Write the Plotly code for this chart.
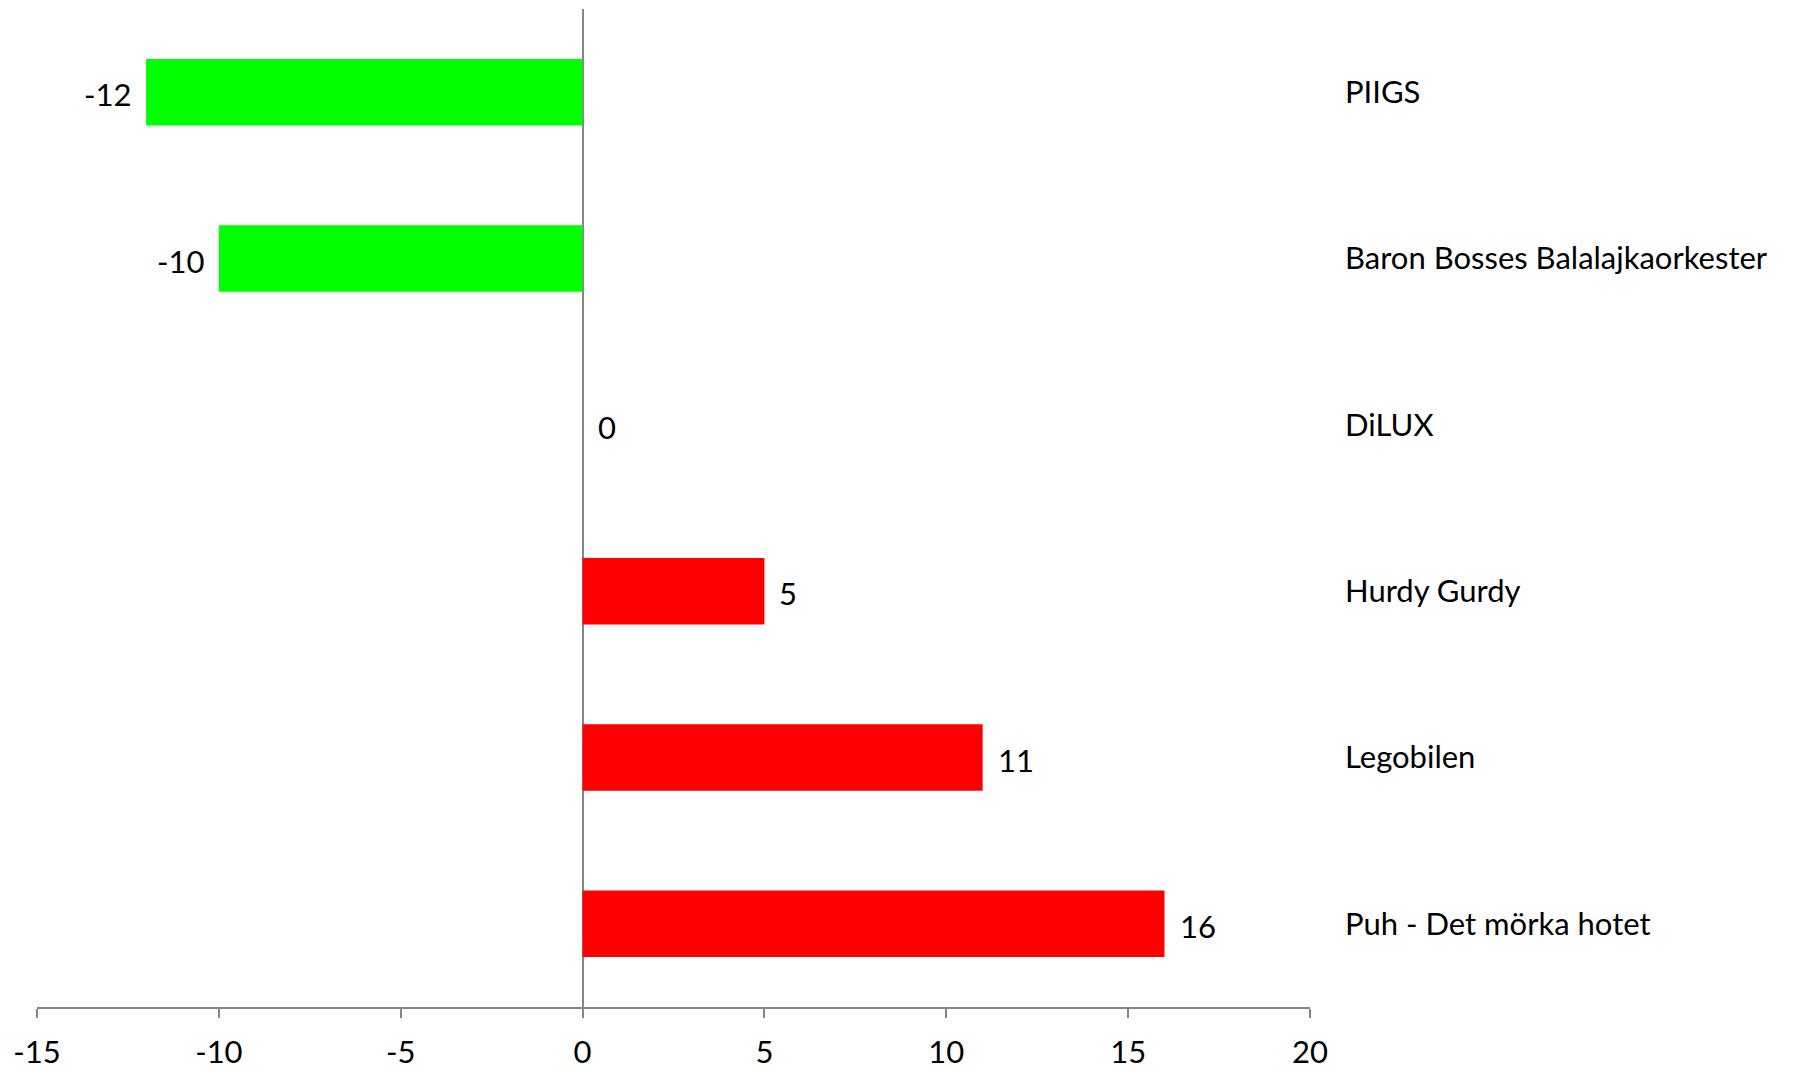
import plotly.graph_objects as go

categories = ["PIIGS", "Baron Bosses Balalajkaorkester", "DiLUX", "Hurdy Gurdy", "Legobilen", "Puh - Det mörka hotet"]
values = [-12, -10, 0, 5, 11, 16]
tick_vals = [-15, -10, -5, 0, 5, 10, 15, 20]
tick_text = ["-15", "-10", "-5", "0", "5", "10", "15", "20"]

colors = ["#00FF00" if v < 0 else "#FF0000" for v in values]
FONT = "Lato, Open Sans, sans-serif"
FS = 31

fig = go.Figure()
fig.add_trace(go.Bar(
    x=values, y=categories, orientation="h",
    marker=dict(color=colors, line=dict(width=0)),
    hoverinfo="x+y",
))

for c, v in zip(categories, values):
    fig.add_annotation(
        x=v, y=c, text=str(v), showarrow=False,
        xanchor="right" if v < 0 else "left",
        xshift=-13 if v < 0 else 13,
        yshift=-2,
        font=dict(family=FONT, size=FS, color="#000000"),
    )

fig.update_layout(
    width=1800, height=1072,
    margin=dict(l=29, r=498, t=1, b=73),
    paper_bgcolor="white", plot_bgcolor="white",
    bargap=0.6, showlegend=False,
    font=dict(family=FONT, size=FS, color="#000000"),
)
fig.update_xaxes(
    range=[-15, 20], tickvals=tick_vals, ticktext=tick_text,
    showgrid=False, zeroline=True, zerolinecolor="#868686", zerolinewidth=2,
    showline=True, linecolor="#868686", linewidth=2,
    ticks="outside", ticklen=9, tickwidth=2, tickcolor="#868686",
    ticklabelstandoff=8,
    tickfont=dict(family=FONT, size=FS, color="#000000"),
)
fig.update_yaxes(
    autorange="reversed", side="right",
    showgrid=False, zeroline=False, showline=False, ticks="",
    ticklabelstandoff=34,
    tickfont=dict(family=FONT, size=FS, color="#000000"),
)

fig.write_html("out.html")
